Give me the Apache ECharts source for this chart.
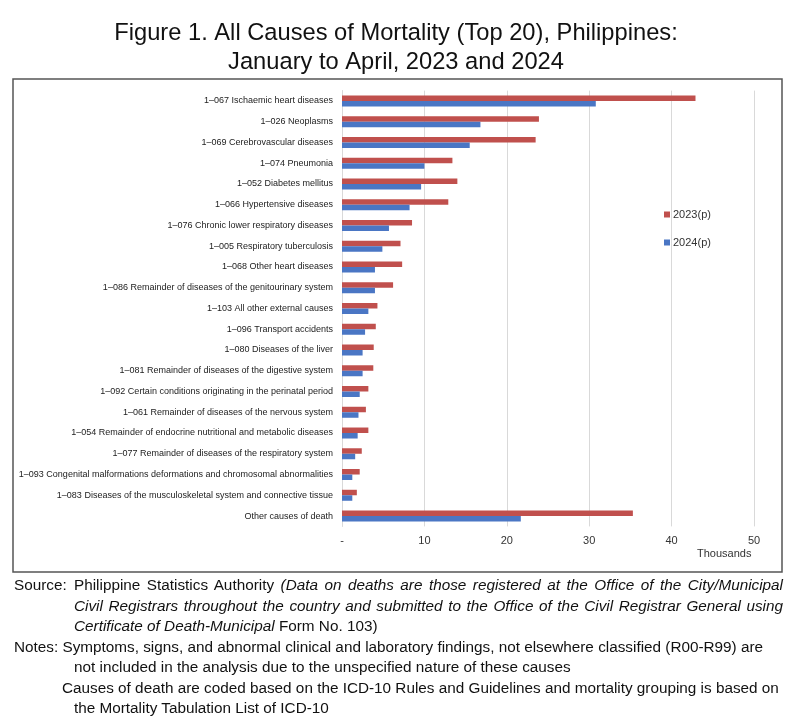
<!DOCTYPE html>
<html>
<head>
<meta charset="utf-8">
<script src="https://cdn.jsdelivr.net/npm/echarts@6/dist/echarts.min.js"></script>
<style>
  html, body { margin: 0; padding: 0; background: #fff; }
  #wrap { position: relative; width: 800px; height: 720px; }
  #chart { position: absolute; left: 0; top: 0; width: 800px; height: 720px; }
  #foot { position: absolute; left: 14px; top: 575px; width: 769px; font-family: "Liberation Sans", Arial, sans-serif; font-size: 15.3px; line-height: 20.5px; color: #111; }
  .ln { white-space: nowrap; }
  .j { text-align: justify; text-align-last: justify; white-space: normal; }
  .row { display: flex; }
</style>
</head>
<body>
<div id="wrap">
<div id="chart"></div>
<div id="foot">
  <div class="row"><div style="width:60px">Source:</div><div class="j" style="width:709px">Philippine Statistics Authority <i>(Data on deaths are those registered at the Office of the City/Municipal</i></div></div>
  <div class="j" style="margin-left:60px;width:709px"><i>Civil Registrars throughout the country and submitted to the Office of the Civil Registrar General using</i></div>
  <div class="ln" style="margin-left:60px"><i>Certificate of Death-Municipal</i> Form No. 103)</div>
  <div class="ln">Notes: Symptoms, signs, and abnormal clinical and laboratory findings, not elsewhere classified (R00-R99) are</div>
  <div class="ln" style="margin-left:60px">not included in the analysis due to the unspecified nature of these causes</div>
  <div class="ln" style="margin-left:48px">Causes of death are coded based on the ICD-10 Rules and Guidelines and mortality grouping is based on</div>
  <div class="ln" style="margin-left:60px">the Mortality Tabulation List of ICD-10</div>
</div>
</div>
<script>
const categories = [
  "1–067 Ischaemic heart diseases",
  "1–026 Neoplasms",
  "1–069 Cerebrovascular diseases",
  "1–074 Pneumonia",
  "1–052 Diabetes mellitus",
  "1–066 Hypertensive diseases",
  "1–076 Chronic lower respiratory diseases",
  "1–005 Respiratory tuberculosis",
  "1–068 Other heart diseases",
  "1–086 Remainder of diseases of the genitourinary system",
  "1–103 All other external causes",
  "1–096 Transport accidents",
  "1–080 Diseases of the liver",
  "1–081 Remainder of diseases of the digestive system",
  "1–092 Certain conditions originating in the perinatal period",
  "1–061 Remainder of diseases of the nervous system",
  "1–054 Remainder of endocrine nutritional and metabolic diseases",
  "1–077 Remainder of diseases of the respiratory system",
  "1–093 Congenital malformations deformations and chromosomal abnormalities",
  "1–083 Diseases of the musculoskeletal system and connective tissue",
  "Other causes of death"
];
const values2023 = [42.9, 23.9, 23.5, 13.4, 14.0, 12.9, 8.5, 7.1, 7.3, 6.2, 4.3, 4.1, 3.85, 3.8, 3.2, 2.9, 3.2, 2.4, 2.15, 1.8, 35.3];
const values2024 = [30.8, 16.8, 15.5, 10.0, 9.6, 8.2, 5.7, 4.9, 4.0, 4.0, 3.2, 2.8, 2.5, 2.5, 2.15, 2.0, 1.9, 1.6, 1.25, 1.25, 21.7];
const seriesNames = ["2023(p)", "2024(p)"];
const xTicks = [0, 10, 20, 30, 40, 50];
const titleLines = ["Figure 1. All Causes of Mortality (Top 20), Philippines:", "January to April, 2023 and 2024"];

const chart = echarts.init(document.getElementById('chart'), null, { renderer: 'canvas' });
const option = {
  backgroundColor: '#fff',
  animation: false,
  legend: {
    orient: 'vertical',
    left: 659,
    top: 204,
    itemWidth: 6,
    itemHeight: 6,
    itemGap: 17,
    icon: 'rect',
    data: seriesNames,
    textStyle: { fontFamily: 'Liberation Sans, Arial, sans-serif', fontSize: 11, color: '#333', padding: [0, 0, 0, -2] }
  },
  grid: { left: 342, right: 46, top: 90.6, bottom: 193.6, containLabel: false, outerBoundsMode: 'none' },
  xAxis: {
    type: 'value',
    min: xTicks[0],
    max: xTicks[xTicks.length - 1],
    interval: 10,
    axisLine: { show: false },
    axisTick: { show: false },
    splitLine: { show: true, lineStyle: { color: '#d9d9d9', width: 1 } },
    axisLabel: {
      margin: 9,
      fontFamily: 'Liberation Sans, Arial, sans-serif',
      fontSize: 11,
      color: '#333',
      formatter: v => (v === 0 ? '-' : String(v))
    }
  },
  yAxis: {
    type: 'category',
    inverse: true,
    data: categories,
    axisLine: { show: true, lineStyle: { color: '#d9d9d9' } },
    axisTick: { show: false },
    axisLabel: {
      margin: 9,
      fontFamily: 'Liberation Sans, Arial, sans-serif',
      fontSize: 9,
      color: '#222'
    }
  },
  series: [
    { name: seriesNames[0], type: 'bar', data: values2023, barWidth: 5.5, barGap: '0%', itemStyle: { color: '#C0504D' } },
    { name: seriesNames[1], type: 'bar', data: values2024, barWidth: 5.5, barGap: '0%', itemStyle: { color: '#4A76C4' } }
  ],
  graphic: [
    { type: 'text', x: 396, y: 19, silent: true, style: { text: titleLines.join('\n'), align: 'center', verticalAlign: 'top', fontFamily: 'Liberation Sans, Arial, sans-serif', fontSize: 23.7, lineHeight: 29, fill: '#111' } },
    { type: 'rect', shape: { x: 13, y: 79, width: 769, height: 493 }, style: { fill: 'none', stroke: '#555', lineWidth: 1.5 }, silent: true },
    { type: 'text', left: 697, top: 548, style: { text: 'Thousands', fontFamily: 'Liberation Sans, Arial, sans-serif', fontSize: 11, fill: '#333' } }
  ]
};
chart.setOption(option);
</script>
</body>
</html>
